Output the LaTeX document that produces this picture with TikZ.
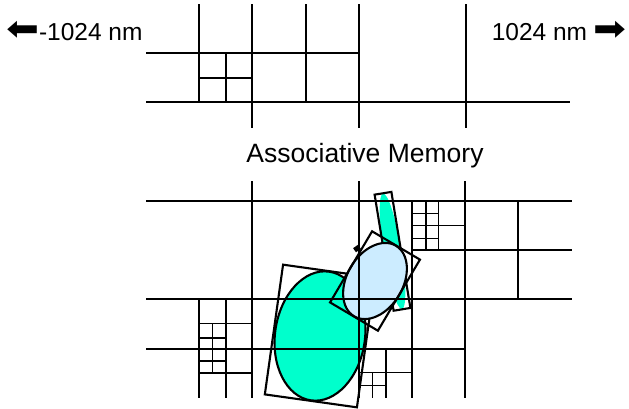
\documentclass[tikz,border=0pt]{standalone}
\usepackage{graphicx}
\usepackage{fontspec}
\setmainfont{Liberation Sans}
\newfontfamily\symfont{DejaVu Sans}
\definecolor{aqua}{HTML}{00FFCC}
\definecolor{paleblue}{HTML}{CCECFF}
\begin{document}
\begin{tikzpicture}[x=1pt,y=-1pt,
  maj/.style={line width=2.3pt},
  mnr/.style={line width=1.6pt},
  shapeline/.style={line width=2.1pt, line join=miter},
  lbl/.style={inner sep=0pt, font=\fontsize{24.5}{29}\selectfont}]
\useasboundingbox (0,0) rectangle (629,408);

% labels
\node[lbl, anchor=base west] (leftlbl) at (6,40) {{\symfont\raisebox{-0.5pt}{\scalebox{-1.6}[1.4]{➡}}}-1024 nm};
\node[lbl, anchor=base east] (rightlbl) at (627,40) {1024 nm {\symfont\raisebox{-0.5pt}{\scalebox{1.6}[1.4]{➡}}}};
\node[lbl, anchor=base, font=\fontsize{26.5}{31}\selectfont] (title) at (365,162.7) {Associative Memory};

% big green ellipse and its box
\begin{scope}[shift={(320,336)}, rotate=-8]
  \fill[aqua] (0,0) ellipse [x radius=45pt, y radius=65pt];
  \draw[shapeline] (0,0) ellipse [x radius=45pt, y radius=65pt];
  \draw[shapeline] (-46.5pt,-65.5pt) rectangle (46.5pt,65.5pt);
\end{scope}

% thin green ellipse and its box
\begin{scope}[shift={(392.5,251.3)}, rotate=9.3]
  \fill[aqua] (0,0) ellipse [x radius=8.8pt, y radius=58.5pt];
  \draw[shapeline] (-8.5pt,-58.8pt) rectangle (8.5pt,58.8pt);
\end{scope}

% small dark mark
\begin{scope}[shift={(357,248.5)}, rotate=35]
  \fill[black] (-3pt,-2.5pt) rectangle (3pt,2.5pt);
\end{scope}

% pale blue ellipse and its box
\begin{scope}[shift={(375,281)}, rotate=59.4]
  \fill[paleblue] (0,0) ellipse [x radius=41pt, y radius=28pt];
  \draw[shapeline] (0,0) ellipse [x radius=41pt, y radius=28pt];
  \draw[shapeline] (-41.3pt,-27.8pt) rectangle (41.3pt,27.8pt);
\end{scope}

% ---------- top grid ----------
\draw[maj] (146,53) -- (359,53);
\draw[maj] (146,102) -- (570,102);
\draw[mnr] (199,4) -- (199,102);
\draw[mnr] (252,4) -- (252,128);
\draw[mnr] (306,4) -- (306,102);
\draw[maj] (359,4) -- (359,128);
\draw[maj] (466,4) -- (466,128);
\draw[maj] (226,53) -- (226,102);
\draw[mnr] (199,78) -- (253,78);

% ---------- bottom grid ----------
\draw[maj] (146,201) -- (572,201);
\draw[mnr] (412,250) -- (572,250);
\draw[maj] (146,299) -- (572,299);
\draw[maj] (146,349) -- (465,349);
\draw[mnr] (252,181) -- (252,398);
\draw[maj] (359,181) -- (359,398);
\draw[maj] (412,201) -- (412,398);
\draw[maj] (465,181) -- (465,398);
\draw[mnr] (518,201) -- (518,299);
% top-right cells
\draw[mnr] (425.7,201) -- (425.7,251);
\draw[mnr] (438.3,201) -- (438.3,251);
\draw[mnr] (412,213.3) -- (439,213.3);
\draw[mnr] (412,225.5) -- (465,225.5);
\draw[mnr] (412,238.3) -- (439,238.3);
% bottom-left cells
\draw[mnr] (199,299) -- (199,398);
\draw[maj] (226,299) -- (226,398);
\draw[mnr] (212.3,323.3) -- (212.3,373);
\draw[mnr] (199,323.3) -- (253,323.3);
\draw[mnr] (199,337.7) -- (226,337.7);
\draw[mnr] (199,361) -- (226,361);
\draw[mnr] (199,372.7) -- (253,372.7);
% bottom-middle cells
\draw[mnr] (385.7,349) -- (385.7,398);
\draw[mnr] (359,372.5) -- (412,372.5);
\draw[mnr] (372.5,372.5) -- (372.5,398);
\draw[mnr] (359,385.3) -- (386,385.3);
\end{tikzpicture}
\end{document}
